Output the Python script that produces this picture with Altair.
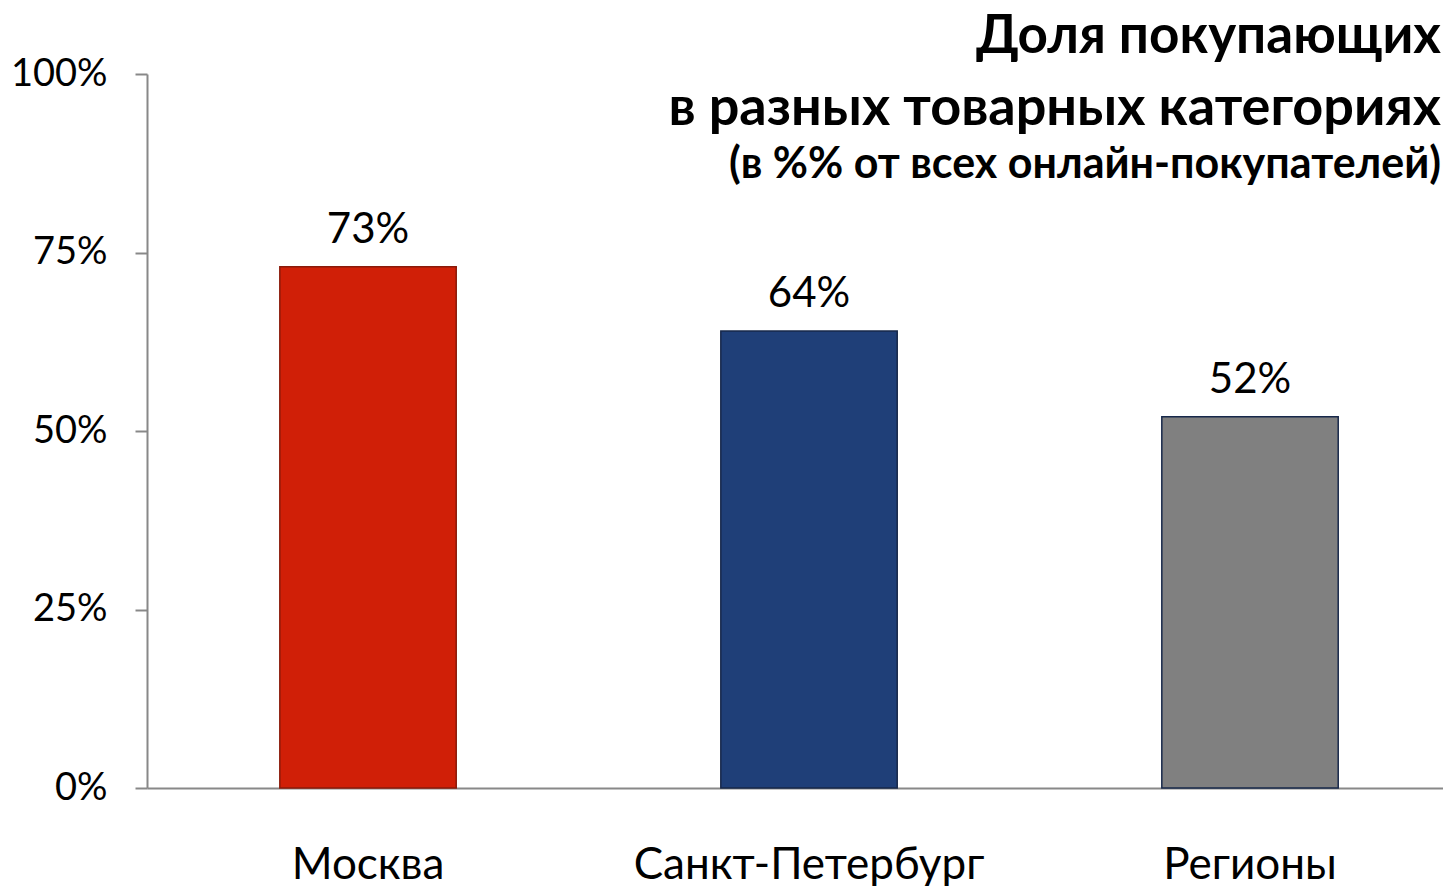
import altair as alt
import pandas as pd

categories = ["Москва", "Санкт-Петербург", "Регионы"]
values = [0.73, 0.64, 0.52]
fills = ["#D01F07", "#1F3F78", "#808080"]
strokes = ["#8A1A0A", "#17284A", "#17284A"]
title_lines = ["Доля покупающих", "в разных товарных категориях"]
subtitle_line = "(в %% от всех онлайн-покупателей)"
y_ticks = [0, 0.25, 0.5, 0.75, 1.0]

FONT = "Lato, 'Open Sans', sans-serif"

df = pd.DataFrame({"cat": categories, "val": values})

x = alt.X("cat:N", sort=categories, title=None,
          scale=alt.Scale(paddingInner=0.6, paddingOuter=0.2694, align=0.559),
          axis=alt.Axis(labelAngle=0, ticks=False, labelFontSize=44, labelFont=FONT,
                        labelColor="#000000", labelBaseline="alphabetic", labelPadding=90,
                        labelLimit=0, domainColor="#888888", domainWidth=2))
y = alt.Y("val:Q", title=None,
          scale=alt.Scale(domain=[0, 1], nice=False),
          axis=alt.Axis(values=y_ticks, format=".0%", grid=False, tickSize=12,
                        tickColor="#888888", tickWidth=2, domainColor="#888888",
                        domainWidth=2, labelFontSize=38, labelFont=FONT,
                        labelColor="#000000", labelPadding=28))

bars = alt.Chart(df).mark_bar(strokeWidth=1.5).encode(
    x=x, y=y,
    fill=alt.Fill("cat:N", scale=alt.Scale(domain=categories, range=fills), legend=None),
    stroke=alt.Stroke("cat:N", scale=alt.Scale(domain=categories, range=strokes), legend=None),
)

labels = alt.Chart(df).mark_text(baseline="alphabetic", dy=-24, fontSize=42, font=FONT,
                                 color="#000000").encode(
    x=alt.X("cat:N", sort=categories), y="val:Q",
    text=alt.Text("val:Q", format=".0%"))

t1 = alt.Chart(pd.DataFrame({"t": [title_lines[0]]})).mark_text(
    align="right", baseline="alphabetic", fontSize=53, fontWeight="bold", font=FONT,
    color="#000000").encode(text="t:N", x=alt.value(1294), y=alt.value(-21))
t2 = alt.Chart(pd.DataFrame({"t": [title_lines[1]]})).mark_text(
    align="right", baseline="alphabetic", fontSize=54, fontWeight="bold", font=FONT,
    color="#000000").encode(text="t:N", x=alt.value(1294), y=alt.value(51))
t3 = alt.Chart(pd.DataFrame({"t": [subtitle_line]})).mark_text(
    align="right", baseline="alphabetic", fontSize=43, fontWeight="bold", font=FONT,
    color="#000000").encode(text="t:N", x=alt.value(1294), y=alt.value(104))

chart = alt.layer(bars, labels, t1, t2, t3).properties(
    width=1296, height=714,
    padding={"left": 139, "top": 66, "right": 0, "bottom": 98},
    autosize=alt.AutoSizeParams(type="none"),
).configure_view(stroke=None)

chart.save("out.html", embed_options={"renderer": "svg", "actions": False})
